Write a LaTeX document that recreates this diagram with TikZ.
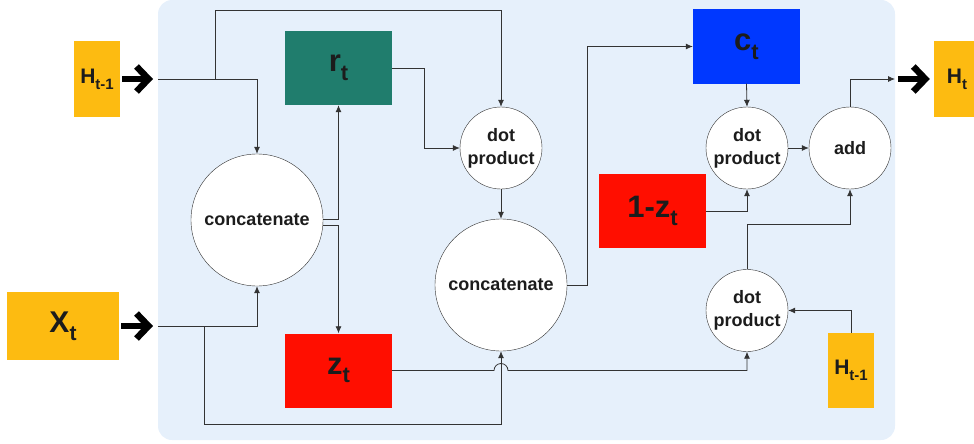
\documentclass[tikz,border=0pt]{standalone}
\usepackage{fontspec}
\setmainfont{Liberation Sans}
\usetikzlibrary{arrows.meta}
\definecolor{panel}{RGB}{230,240,251}
\definecolor{inyellow}{RGB}{253,187,17}
\definecolor{rteal}{RGB}{32,125,109}
\definecolor{zred}{RGB}{255,14,0}
\definecolor{cblue}{RGB}{0,56,255}
\definecolor{wirecol}{RGB}{51,51,51}
\definecolor{inkcol}{RGB}{28,28,28}
% big letter with a lowered index
\newcommand{\gatelabel}[4]{{\fontsize{#1}{#1}\selectfont #3\raisebox{-0.28em}{\fontsize{#2}{#2}\selectfont #4}}}
\tikzset{
  gate/.style={rectangle, inner sep=0pt, minimum width=107pt, minimum height=74pt, text=inkcol},
  inbox/.style={rectangle, inner sep=0pt, fill=inyellow, text=inkcol},
  op/.style={circle, draw=wirecol, fill=white, inner sep=0pt, align=center, text=inkcol,
    font=\fontsize{18}{23}\selectfont\bfseries},
  wire/.style={draw=wirecol, line width=0.8pt, -{Latex[length=7pt,width=6pt]}},
  bigarrow/.style={draw=black, line width=6.5pt, -{Straight Barb[length=12pt,width=25pt]}}
}
\begin{document}
\begin{tikzpicture}[x=1pt, y=-1pt, font=\bfseries]
  \useasboundingbox (0,0) rectangle (974,444);
  \fill[panel, rounded corners=14pt] (158,0) rectangle (895,440);
  %
  \node[inbox, minimum width=46pt, minimum height=76pt] (hin) at (97,79) {\gatelabel{21}{15}{H}{t-1}};
  \node[inbox, minimum width=112pt, minimum height=68pt] (xin) at (63,326) {\gatelabel{30}{21}{X}{t}};
  \node[inbox, minimum width=46pt, minimum height=76pt] (hout) at (957,79) {\gatelabel{21}{15}{H}{t}};
  \node[inbox, minimum width=46pt, minimum height=75pt] (hprev) at (851,370.5) {\gatelabel{21}{15}{H}{t-1}};
  %
  \node[gate, fill=rteal] (rgate) at (338.5,68) {\gatelabel{31}{22}{r}{t}};
  \node[gate, fill=zred] (zgate) at (338.5,370.5) {\gatelabel{31}{22}{z}{t}};
  \node[gate, fill=cblue] (cand) at (746.5,46.5) {\gatelabel{31}{22}{c}{t}};
  \node[gate, fill=zred] (onez) at (652.5,211) {\gatelabel{31}{22}{1-z}{t}};
  %
  \node[op, minimum size=132pt] (cat1) at (257,220) {concatenate};
  \node[op, minimum size=132pt] (cat2) at (501,285) {concatenate};
  \node[op, minimum size=82pt] (dot1) at (501,148) {dot\\product};
  \node[op, minimum size=82pt] (dot2) at (747,148) {dot\\product};
  \node[op, minimum size=82pt] (addn) at (850,148) {add};
  \node[op, minimum size=82pt] (dot3) at (747,310.5) {dot\\product};
  %
  \coordinate (hin-in) at (158,79);
  \coordinate (xin-in) at (158,326);
  \coordinate (hout-in) at (895,79);
  \coordinate (hsplit) at (215,79);
  \coordinate (htop) at (215,10);
  \coordinate (xsplit) at (204,326);
  \coordinate (xbot) at (204,424);
  %
  \draw[bigarrow] ([xshift=2pt]hin.east) -- ([xshift=-5pt]hin-in);
  \draw[bigarrow] ([xshift=2pt]xin.east) -- ([xshift=-5pt]xin-in);
  \draw[bigarrow] ([xshift=3pt]hout-in) -- ([xshift=-4pt]hout.west);
  %
  \draw[wire] (hin-in) -| (cat1.north);
  \draw[wire] (hsplit) -- (htop) -| (dot1.north);
  \draw[wire] (xin-in) -| (cat1.south);
  \draw[wire] (xsplit) -- (xbot) -| (cat2.south);
  \draw[wire] ([yshift=1pt]cat1.east) -| (rgate.south);
  \draw[wire] ([yshift=-5pt]cat1.east) -| (zgate.north);
  \draw[wire] (rgate.east) -- ++(32,0) |- (dot1.west);
  \draw[wire] (dot1.south) -- (cat2.north);
  \draw[wire] (cat2.east) -- ++(20,0) |- (cand.west);
  \draw[wire] (cand.south) -- (dot2.north);
  \draw[wire] (onez.east) -| (dot2.south);
  \draw[wire] (dot2.east) -- (addn.west);
  \draw[wire] (addn.north) |- (hout-in);
  \draw[wire] (dot3.north) -- ++(0,-45) -| (addn.south);
  \draw[wire] (hprev.north) |- (dot3.east);
  % hop over the x_t wire
  \draw[wire] (zgate.east) -- ([xshift=-7pt]cat2.south |- zgate.east)
    arc[start angle=180, end angle=360, radius=7] -| (dot3.south);
\end{tikzpicture}
\end{document}
